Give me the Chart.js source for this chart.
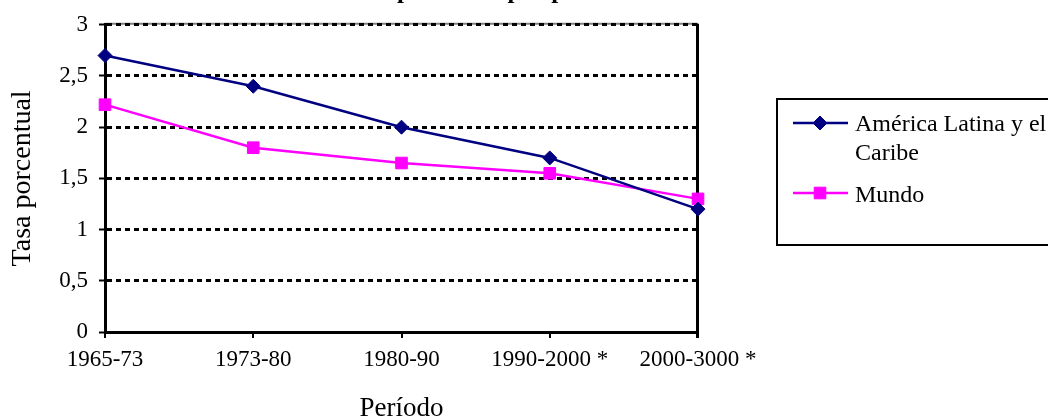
<!DOCTYPE html>
<html>
<head>
<meta charset="utf-8">
<script src="https://cdn.jsdelivr.net/npm/chart.js@4.4.1/dist/chart.umd.min.js"></script>
<style>
  html, body { margin: 0; padding: 0; background: #fff; }
  #wrap { width: 1048px; height: 416px; }
</style>
</head>
<body>
<div id="wrap"><canvas id="growthChart" width="1048" height="416"></canvas></div>
<script>
// Data
const periods = ['1965-73', '1973-80', '1980-90', '1990-2000 *', '2000-3000 *'];
const latinAmerica = [2.7, 2.4, 2.0, 1.7, 1.2];
const world = [2.22, 1.8, 1.65, 1.55, 1.3];
const yTickValues = [0, 0.5, 1, 1.5, 2, 2.5, 3];

const seriesNames = ['América Latina y el Caribe', 'Mundo'];
const titleText = 'Tasa de crecimiento de la población por período';

const FONT = 'Liberation Serif';

// background, top frame line, right frame line
const framePlugin = {
  id: 'frame',
  beforeDraw: (chart) => {
    const { ctx, chartArea: a } = chart;
    ctx.save();
    ctx.fillStyle = '#fff';
    ctx.fillRect(0, 0, chart.width, chart.height);
    ctx.strokeStyle = '#808080';
    ctx.lineWidth = 2;
    ctx.beginPath();
    ctx.moveTo(a.left, a.top - 1);
    ctx.lineTo(a.right, a.top - 1);
    ctx.stroke();
    ctx.restore();
  },
  beforeDatasetsDraw: (chart) => {
    const { ctx, chartArea: a } = chart;
    ctx.save();
    ctx.strokeStyle = '#000';
    ctx.lineWidth = 3;
    ctx.beginPath();
    ctx.moveTo(a.right - 0.5, a.top - 1);
    ctx.lineTo(a.right - 0.5, a.bottom + 6);
    ctx.stroke();
    ctx.restore();
  },
};

// title cut off at the top edge, only descenders show
const titlePlugin = {
  id: 'cutTitle',
  afterDraw: (chart) => {
    const { ctx } = chart;
    ctx.save();
    ctx.font = 'bold 25px ' + FONT;
    ctx.fillStyle = '#000';
    ctx.textBaseline = 'alphabetic';
    const prefix = titleText.slice(0, titleText.indexOf('población'));
    const x = 397 - ctx.measureText(prefix).width;
    ctx.fillText(titleText, x, -2.5);
    ctx.restore();
  },
};

// boxed legend on the right, clipped by the canvas edge
const legendPlugin = {
  id: 'boxLegend',
  afterDraw: (chart) => {
    const { ctx } = chart;
    ctx.save();
    ctx.strokeStyle = '#000';
    ctx.lineWidth = 2;
    ctx.strokeRect(777, 99, 320, 146);

    ctx.font = '24px ' + FONT;
    ctx.fillStyle = '#000';
    ctx.textBaseline = 'alphabetic';
    const textX = 855;
    const maxW = chart.width - textX + 2;
    const rows = [{ lineY: 123, baseY: 131 }, { lineY: 193, baseY: 202 }];

    chart.data.datasets.forEach((ds, i) => {
      const r = rows[i];
      ctx.strokeStyle = ds.borderColor;
      ctx.lineWidth = ds.borderWidth;
      ctx.beginPath();
      ctx.moveTo(793, r.lineY);
      ctx.lineTo(848, r.lineY);
      ctx.stroke();
      ctx.fillStyle = ds.backgroundColor;
      ctx.lineWidth = 1;
      Chart.helpers.drawPoint(ctx, {
        pointStyle: ds.pointStyle,
        radius: ds.pointRadius,
        borderWidth: 1,
      }, 820, r.lineY);

      // wrap the label
      const words = ds.label.split(' ');
      const lines = [];
      let cur = '';
      words.forEach((w) => {
        const test = cur ? cur + ' ' + w : w;
        if (ctx.measureText(test).width > maxW && cur) {
          lines.push(cur);
          cur = w;
        } else {
          cur = test;
        }
      });
      lines.push(cur);
      ctx.fillStyle = '#000';
      lines.forEach((ln, j) => ctx.fillText(ln, textX, r.baseY + j * 29));
    });
    ctx.restore();
  },
};

const ctx = document.getElementById('growthChart').getContext('2d');
new Chart(ctx, {
  type: 'line',
  data: {
    labels: periods,
    datasets: [
      {
        label: seriesNames[0],
        data: latinAmerica,
        borderColor: '#000080',
        backgroundColor: '#000080',
        borderWidth: 2.5,
        pointStyle: 'rectRot',
        pointRadius: 7,
        pointHoverRadius: 7,
        pointBorderWidth: 1,
        tension: 0,
        clip: false,
      },
      {
        label: seriesNames[1],
        data: world,
        borderColor: '#FF00FF',
        backgroundColor: '#FF00FF',
        borderWidth: 2.5,
        pointStyle: 'rect',
        pointRadius: 8.2,
        pointHoverRadius: 8.2,
        pointBorderWidth: 1,
        tension: 0,
        clip: false,
      },
    ],
  },
  options: {
    responsive: false,
    animation: false,
    devicePixelRatio: 1,
    layout: {
      autoPadding: false,
      padding: { top: 23, right: 350, left: 0, bottom: 0 },
    },
    plugins: {
      legend: { display: false },
      tooltip: { enabled: false },
      title: { display: false },
    },
    scales: {
      x: {
        offset: false,
        afterFit: (s) => { s.height = 84; },
        grid: {
          drawOnChartArea: false,
          drawTicks: true,
          tickLength: 6,
          color: '#000',
          lineWidth: 2,
        },
        border: { display: true, color: '#000', width: 3 },
        ticks: {
          color: '#000',
          font: { family: FONT, size: 23 },
          padding: 8,
          maxRotation: 0,
          autoSkip: false,
        },
        title: {
          display: true,
          text: 'Período',
          color: '#000',
          font: { family: FONT, size: 27, lineHeight: 1 },
          padding: { top: 0, bottom: -6 },
        },
      },
      y: {
        min: 0,
        max: 3,
        afterFit: (s) => { s.width = 105; },
        afterBuildTicks: (s) => { s.ticks = yTickValues.map((v) => ({ value: v })); },
        grid: {
          color: (c) => (c.tick && c.tick.value === 0 ? 'rgba(0,0,0,0)' : '#000'),
          tickColor: '#000',
          lineWidth: 3,
          tickWidth: 2,
          tickLength: 6,
        },
        border: { display: true, color: '#000', width: 3, dash: [5, 4] },
        ticks: {
          color: '#000',
          font: { family: FONT, size: 23 },
          padding: 11,
          callback: (v) => String(v).replace('.', ','),
        },
        title: {
          display: true,
          text: 'Tasa porcentual',
          color: '#000',
          font: { family: FONT, size: 28, lineHeight: 1 },
          padding: { top: 9, bottom: 0 },
        },
      },
    },
  },
  plugins: [framePlugin, titlePlugin, legendPlugin],
});
</script>
</body>
</html>
